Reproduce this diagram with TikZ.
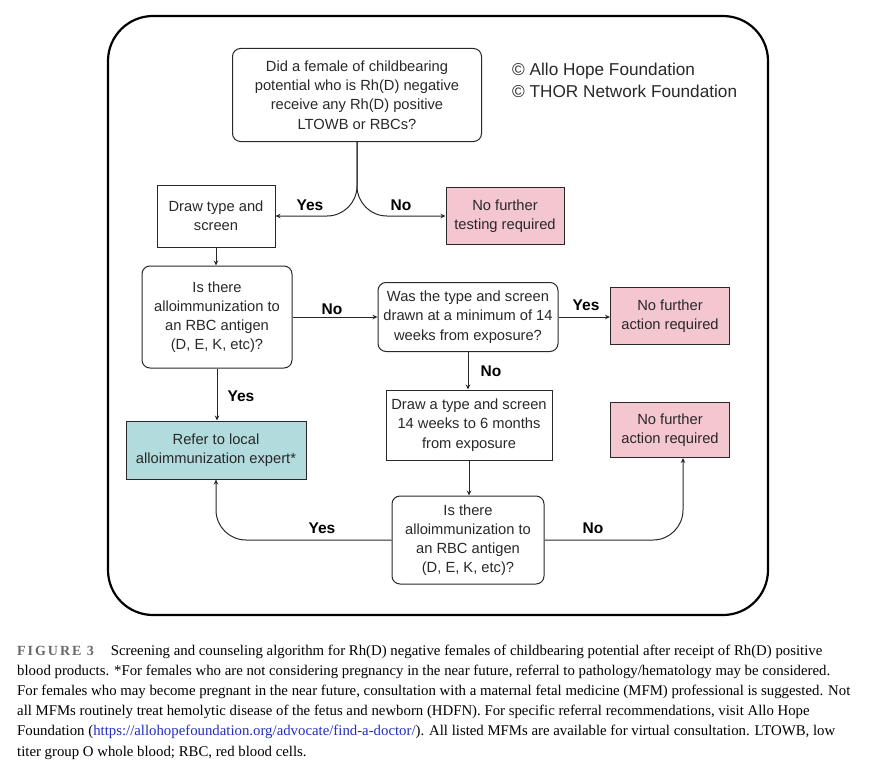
\documentclass[tikz,border=0pt]{standalone}
\usepackage{fontspec}
\setmainfont{Liberation Serif}
\newfontfamily\chartfont{Liberation Sans}
\newfontfamily\figfont[LetterSpace=14]{Liberation Serif}
\usetikzlibrary{arrows.meta}
\definecolor{pinkbox}{RGB}{244,198,207}
\definecolor{tealbox}{RGB}{178,219,221}
\definecolor{linkblue}{RGB}{35,45,190}
\definecolor{figgrey}{RGB}{105,105,105}
\definecolor{inkgrey}{RGB}{40,40,40}

\begin{document}
\begin{tikzpicture}[x=1pt,y=-1pt]
\tikzstyle{every node}=[font=\chartfont\fontsize{14.7}{19.2}\selectfont, align=center, inner sep=2pt, text=inkgrey];
\tikzstyle{question}=[draw=inkgrey, rounded corners=8pt, line width=1pt];
\tikzstyle{action}=[draw=inkgrey, line width=1pt];
\tikzstyle{stopbox}=[action, fill=pinkbox];
\tikzstyle{referbox}=[action, fill=tealbox];
\tikzstyle{answer}=[font=\chartfont\bfseries\fontsize{15.5}{18}\selectfont, text=black];
\tikzstyle{link}=[draw=inkgrey, line width=1pt, -{Stealth[length=5pt,width=4.5pt]}];
\tikzstyle{capline}=[anchor=base west, inner sep=0pt, align=left, text=black, font=\rmfamily\fontsize{14.8}{20}\selectfont];

\useasboundingbox (0,0) rectangle (869,768);
\draw[line width=2.2pt, rounded corners=45pt] (108,16) rectangle (768,615);

\draw (357,95) node[question, minimum width=249pt, minimum height=93pt] (q1) {Did a female of childbearing\\potential who is Rh(D) negative\\receive any Rh(D) positive\\LTOWB or RBCs?};
\draw (510,80) node[anchor=west, align=left, font=\chartfont\fontsize{17.2}{22}\selectfont] (copy) {© Allo Hope Foundation\\© THOR Network Foundation};

\draw (216,216) node[action, minimum width=118pt, minimum height=62pt] (draw1) {Draw type and\\screen};
\draw (505,216) node[stopbox, minimum width=118pt, minimum height=57pt] (stop1) {No further\\testing required};

\draw (217,317) node[question, minimum width=150pt, minimum height=102pt] (q2) {Is there\\alloimmunization to\\an RBC antigen\\(D, E, K, etc)?};
\draw (468,317) node[question, minimum width=180pt, minimum height=69pt] (q3) {Was the type and screen\\drawn at a minimum of 14\\weeks from exposure?};
\draw (670,316) node[stopbox, minimum width=119pt, minimum height=57pt] (stop2) {No further\\action required};

\draw (469,425) node[action, minimum width=166pt, minimum height=70pt] (draw2) {Draw a type and screen\\14 weeks to 6 months\\from exposure};
\draw (216,450) node[referbox, minimum width=180pt, minimum height=58pt] (refer) {Refer to local\\alloimmunization expert*};
\draw (670,430) node[stopbox, minimum width=119pt, minimum height=55pt] (stop3) {No further\\action required};

\draw (468,540) node[question, minimum width=152pt, minimum height=88pt] (q4) {Is there\\alloimmunization to\\an RBC antigen\\(D, E, K, etc)?};

% split under the first question
\draw[link, rounded corners=30pt] (q1.south) |- (draw1.east);
\draw[link, rounded corners=30pt] (q1.south) |- (stop1.west);

\draw[link] (draw1.south) -- (draw1.south |- q2.north);
\draw[link] (q2.east) -- (q2.east -| q3.west);
\draw[link] (q3.east) -- (q3.east -| stop2.west);
\draw[link] (q3.south) -- (q3.south |- draw2.north);
\draw[link] (q2.south) -- (q2.south |- refer.north);
\draw[link] (draw2.south) -- (draw2.south |- q4.north);

% loops back from the last question
\draw[link, rounded corners=30pt] (q4.west) -| (refer.south);
\draw[link, rounded corners=30pt] (q4.east) -| ([xshift=13pt]stop3.south);

\draw (310,205) node[answer] (yes1) {Yes};
\draw (401,205) node[answer] (no1) {No};
\draw (332,309) node[answer] (no2) {No};
\draw (586,305) node[answer] (yes2) {Yes};
\draw (491,371) node[answer] (no3) {No};
\draw (241,396) node[answer] (yes3) {Yes};
\draw (322,528) node[answer] (yes4) {Yes};
\draw (593,528) node[answer] (no4) {No};

% caption
\draw (17,655) node[capline] (cap1) {{\figfont\bfseries\color{figgrey}\fontsize{14}{20}\selectfont FIGURE 3}\hspace{17pt}Screening and counseling algorithm for Rh(D) negative females of childbearing potential after receipt of Rh(D) positive};
\draw (17,675.2) node[capline] (cap2) {blood products. *For females who are not considering pregnancy in the near future, referral to pathology/hematology may be considered.};
\draw (17,695.4) node[capline] (cap3) {For females who may become pregnant in the near future, consultation with a maternal fetal medicine (MFM) professional is suggested. Not};
\draw (17,715.6) node[capline] (cap4) {all MFMs routinely treat hemolytic disease of the fetus and newborn (HDFN). For specific referral recommendations, visit Allo Hope};
\draw (17,735.8) node[capline] (cap5) {Foundation ({\color{linkblue}https://allohopefoundation.org/advocate/find-a-doctor/}). All listed MFMs are available for virtual consultation. LTOWB, low};
\draw (17,756) node[capline] (cap6) {titer group O whole blood; RBC, red blood cells.};
\end{tikzpicture}
\end{document}
